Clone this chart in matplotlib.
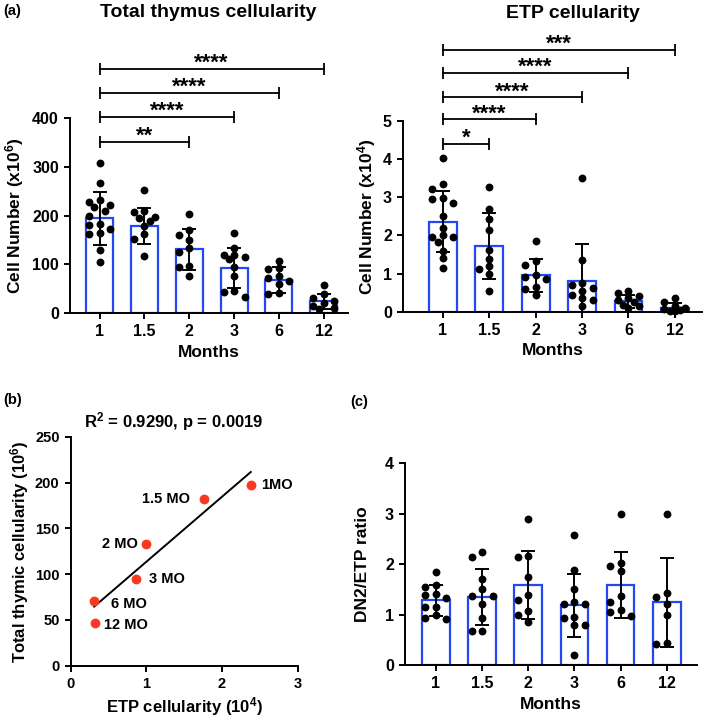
import matplotlib
matplotlib.use('Agg')
import matplotlib.pyplot as plt
import numpy as np

plt.rcParams['font.family'] = ['Liberation Sans', 'DejaVu Sans']
plt.rcParams['font.weight'] = 'bold'
plt.rcParams['axes.labelweight'] = 'bold'
plt.rcParams['mathtext.fontset'] = 'custom'
plt.rcParams['mathtext.rm'] = 'Liberation Sans:bold'
plt.rcParams['mathtext.it'] = 'Liberation Sans:bold'
plt.rcParams['mathtext.bf'] = 'Liberation Sans:bold'

# ---------------- data ----------------
months = ['1', '1.5', '2', '3', '6', '12']

total_mean = [194, 179, 131, 92, 68, 24]
total_sd = [54, 37, 42, 41, 27, 15]
total_pts = [
    [308, 267, 232, 228, 222, 218, 210, 200, 182, 180, 172, 165, 162, 130, 105],
    [252, 209, 207, 197, 195, 189, 178, 163, 151, 116],
    [203, 170, 160, 150, 133, 126, 96, 95, 75],
    [165, 134, 120, 118, 115, 110, 95, 75, 45, 44, 32],
    [107, 92, 90, 76, 72, 65, 60, 42, 38],
    [57, 38, 30, 25, 20, 15, 10, 8],
]
total_sig_to = [2, 3, 4, 5]
total_sig_y = [351, 402, 452, 501]
total_sig_txt = ['**', '****', '****', '****']

etp_mean = [2.36, 1.72, 0.95, 0.80, 0.27, 0.11]
etp_sd = [0.80, 0.86, 0.44, 0.98, 0.18, 0.12]
etp_pts = [
    [4.02, 3.34, 3.22, 2.97, 2.95, 2.86, 2.5, 2.2, 2.0, 1.95, 1.95, 1.84, 1.6, 1.4, 1.15],
    [3.27, 2.7, 2.44, 2.15, 1.63, 1.38, 1.19, 1.13, 1.0, 0.55],
    [1.86, 1.34, 1.22, 0.95, 0.9, 0.85, 0.65, 0.6, 0.44],
    [3.51, 1.36, 0.75, 0.7, 0.62, 0.55, 0.45, 0.35, 0.31, 0.15],
    [0.55, 0.48, 0.4, 0.35, 0.3, 0.25, 0.18, 0.15, 0.1],
    [0.35, 0.26, 0.15, 0.1, 0.08, 0.05, 0.02, 0.01],
]
etp_sig_to = [1, 2, 3, 4, 5]
etp_sig_y = [4.41, 5.04, 5.62, 6.27, 6.86]
etp_sig_txt = ['*', '****', '****', '****', '***']

corr_labels = ['1MO', '1.5 MO', '2 MO', '3 MO', '6 MO', '12 MO']
corr_etp = [2.38, 1.76, 0.99, 0.86, 0.31, 0.32]
corr_total = [197, 182, 133, 95, 71, 47]

ratio_mean = [1.28, 1.35, 1.59, 1.18, 1.59, 1.24]
ratio_sd = [0.30, 0.55, 0.68, 0.63, 0.66, 0.88]
ratio_pts = [
    [1.85, 1.58, 1.55, 1.41, 1.39, 1.32, 1.16, 1.16, 1.0, 0.93, 0.91],
    [2.25, 2.15, 1.7, 1.5, 1.36, 1.36, 1.2, 0.93, 0.68, 0.68],
    [2.9, 2.16, 2.15, 1.75, 1.39, 1.28, 1.08, 1.0, 0.85],
    [2.58, 1.88, 1.5, 1.25, 1.21, 1.2, 0.95, 0.93, 0.8, 0.8, 0.2],
    [3.0, 2.03, 1.96, 1.86, 1.37, 1.24, 1.09, 1.05, 0.98],
    [3.0, 1.43, 1.34, 1.2, 1.0, 0.43, 0.41],
]

BLUE = '#2447F5'
RED = '#FA3A1E'

W, H = 709, 718
fig = plt.figure(figsize=(W / 100, H / 100), dpi=100)


def px_axes(x0, y_top, x1, y_bot):
    return fig.add_axes([x0 / W, 1 - y_bot / H, (x1 - x0) / W, (y_bot - y_top) / H])


def style(ax):
    for s in ['top', 'right']:
        ax.spines[s].set_visible(False)
    for s in ['left', 'bottom']:
        ax.spines[s].set_linewidth(1.4)
    ax.tick_params(width=1.4, length=4.5, labelsize=11.5, direction='out')


def swarm_offsets(ax, xc, vals, step_px=10.5, diam_px=7.6):
    # column-wise placement (three columns), so points overlap as little as possible
    placed = []
    offs = []
    cands = [0, -1, 1, -0.5, 0.5]
    for v in vals:
        y_px = ax.transData.transform((xc, v))[1]
        best, best_d = None, -1
        for c in cands:
            d = min([np.hypot((cc - c) * step_px, yy - y_px) for (cc, yy) in placed] + [1e9])
            if d >= diam_px * 0.95:
                best = c
                break
            if d > best_d:
                best, best_d = c, d
        placed.append((best, y_px))
        offs.append(best)
    x_px0 = ax.transData.transform((xc, 0))[0]
    return [ax.transData.inverted().transform((x_px0 + c * step_px, 0))[0] for c in offs]


def bar_panel(ax, means, sds, pts, ylim, yticks, xlim, ylabel, label_x):
    style(ax)
    x = np.arange(len(months))
    ax.set_xlim(*xlim)
    ax.set_ylim(*ylim)
    ax.bar(x, means, width=0.6, facecolor='white', edgecolor=BLUE, linewidth=1.6, zorder=1)
    for i, vals in enumerate(pts):
        xs = swarm_offsets(ax, i, vals)
        ax.scatter(xs, vals, s=32, color='black', zorder=2, linewidths=0, clip_on=False)
    ax.errorbar(x, means, yerr=sds, fmt='none', ecolor='black', elinewidth=1.4,
                capsize=5, capthick=1.4, zorder=3)
    ax.set_xticks(x)
    ax.set_xticklabels(months)
    ax.set_yticks(yticks)
    ax.set_xlabel('Months', fontsize=12.5, labelpad=4)
    ax.set_ylabel(ylabel, fontsize=12.5)
    ax.yaxis.set_label_coords(label_x, 0.5)


def brackets(ax, tos, ys, txts):
    for t, y, s in zip(tos, ys, txts):
        ax.plot([0, t], [y, y], color='black', lw=1.3, marker='|', markersize=8,
                markeredgewidth=1.3, clip_on=False)
        ax.annotate(s, xy=(t / 2, y), xytext=(0, 0.0), textcoords='offset points',
                    ha='center', va='baseline', fontsize=16, annotation_clip=False)


# ---- panel a, left
ax1 = px_axes(70, 118, 348, 313)
bar_panel(ax1, total_mean, total_sd, total_pts, (0, 400), [0, 100, 200, 300, 400],
          (-0.66, 5.54), r'Cell Number (x10$^{6}$)', -0.16)
brackets(ax1, total_sig_to, total_sig_y, total_sig_txt)

# ---- panel a, right
ax2 = px_axes(403, 121, 701.7, 311.7)
bar_panel(ax2, etp_mean, etp_sd, etp_pts, (0, 5), [0, 1, 2, 3, 4, 5],
          (-0.86, 5.58), r'Cell Number (x10$^{4}$)', -0.085)
brackets(ax2, etp_sig_to, etp_sig_y, etp_sig_txt)

# ---- panel c
ax4 = px_axes(405, 463.3, 696.7, 665)
bar_panel(ax4, ratio_mean, ratio_sd, ratio_pts, (0, 4), [0, 1, 2, 3, 4],
          (-0.67, 5.65), 'DN2/ETP ratio', -0.12)

# ---- panel b
ax3 = px_axes(70.7, 436.7, 297.7, 665.7)
style(ax3)
ax3.tick_params(labelsize=10.5)
ax3.set_xlim(0, 3)
ax3.set_ylim(0, 250)
ax3.set_xticks([0, 1, 2, 3])
ax3.set_yticks([0, 50, 100, 150, 200, 250])
ax3.scatter(corr_etp, corr_total, s=50, color=RED, zorder=3, linewidths=0)
slope, icpt = np.polyfit(corr_etp, corr_total, 1)
xl = np.array([min(corr_etp), max(corr_etp)])
ax3.plot(xl, slope * xl + icpt, color='black', lw=1.4, zorder=2)
lab_off = {'1MO': (10, 0, 'left'), '1.5 MO': (-14, 0, 'right'), '2 MO': (-8, 0, 'right'),
           '3 MO': (13, 0, 'left'), '6 MO': (17, -3, 'left'), '12 MO': (9, -2, 'left')}
for lab, xv, yv in zip(corr_labels, corr_etp, corr_total):
    dx, dy, ha = lab_off[lab]
    ax3.annotate(lab, xy=(xv, yv), xytext=(dx * 0.72, dy * 0.72), textcoords='offset points',
                 ha=ha, va='center', fontsize=10.5)
ax3.set_xlabel(r'ETP cellularity (10$^{4}$)', fontsize=12, labelpad=3)
ax3.set_ylabel(r'Total thymic cellularity (10$^{6}$)', fontsize=12)
ax3.yaxis.set_label_coords(-0.175, 0.5)

# ---- figure texts
fig.text(208 / W, 1 - 17 / H, 'Total thymus cellularity', ha='center', va='baseline',
         fontsize=14, weight='bold')
fig.text(573 / W, 1 - 17.5 / H, 'ETP cellularity', ha='center', va='baseline',
         fontsize=14, weight='bold')
fig.text(3 / W, 1 - 15 / H, '(a)', ha='left', va='baseline', fontsize=10.5, weight='bold')
fig.text(3 / W, 1 - 404 / H, '(b)', ha='left', va='baseline', fontsize=10.5, weight='bold')
fig.text(350 / W, 1 - 406 / H, '(c)', ha='left', va='baseline', fontsize=10.5, weight='bold')
fig.text(174 / W, 1 - 427 / H, r'R$^{2}$ = 0.9290, p = 0.0019', ha='center', va='baseline',
         fontsize=12, weight='bold')

fig.savefig('out.png', dpi=100, facecolor='white')
